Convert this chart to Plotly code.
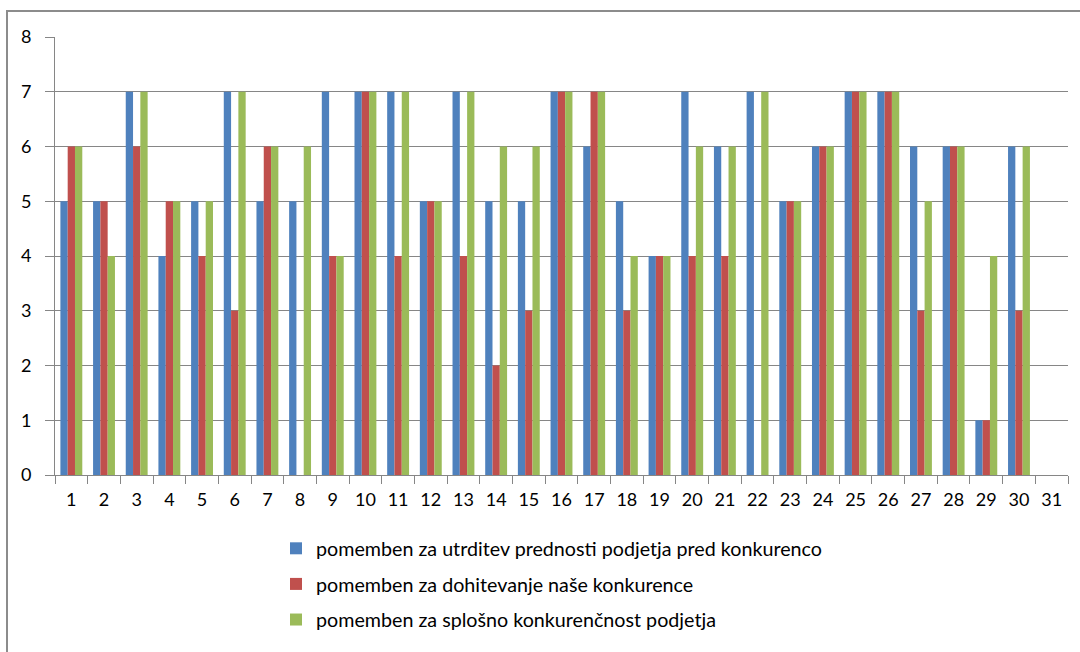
import plotly.graph_objects as go

# Categories 1..31 (31 has no responses)
categories = [str(i) for i in range(1, 32)]

utrditev = [5, 5, 7, 4, 5, 7, 5, 5, 7, 7, 7, 5, 7, 5, 5, 7, 6, 5, 4, 7, 6, 7, 5, 6, 7, 7, 6, 6, 1, 6, None]
dohitevanje = [6, 5, 6, 5, 4, 3, 6, 0, 4, 7, 4, 5, 4, 2, 3, 7, 7, 3, 4, 4, 4, 0, 5, 6, 7, 7, 3, 6, 1, 3, None]
splosno = [6, 4, 7, 5, 5, 7, 6, 6, 4, 7, 7, 5, 7, 6, 6, 7, 7, 4, 4, 6, 6, 7, 5, 6, 7, 7, 5, 6, 4, 6, None]

series_names = [
    "pomemben za utrditev prednosti podjetja pred konkurenco",
    "pomemben za dohitevanje naše konkurence",
    "pomemben za splošno konkurenčnost podjetja",
]
series_values = [utrditev, dohitevanje, splosno]
series_colors = ["#4F81BD", "#C0504D", "#9BBB59"]

FONT = "Lato, 'Open Sans', sans-serif"

fig = go.Figure()
for name, vals, col in zip(series_names, series_values, series_colors):
    fig.add_trace(go.Bar(
        x=categories, y=vals, name=name, legendgroup=name,
        marker=dict(color=col, line=dict(width=0)),
    ))

# plot area in pixels: x 55..1068, y 37..475
L, R, T, B = 55, 12, 37, 177
W, H = 1080, 652
pw, ph = W - L - R, H - T - B

def px_x(p):
    return (p - L) / pw

def px_y(p):
    return (H - B - p) / ph

fig.update_layout(
    width=W, height=H,
    margin=dict(l=L, r=R, t=T, b=B),
    paper_bgcolor="white", plot_bgcolor="white",
    barmode="group", bargap=0.33, bargroupgap=0,
    font=dict(family=FONT, size=18, color="#000000"),
    showlegend=True,
    legend=dict(
        x=px_x(276), y=px_y(529), xanchor="left", yanchor="top",
        orientation="v", tracegroupgap=7,
        font=dict(family=FONT, size=19.7, color="#000000"),
        bgcolor="rgba(0,0,0,0)",
        itemwidth=30,
    ),
    xaxis=dict(
        type="category", range=[-0.5, 30.5],
        tickson="boundaries", ticks="outside", ticklen=8, tickcolor="#868686",
        showline=True, linecolor="#868686", linewidth=1,
        showgrid=False, tickfont=dict(size=18), ticklabelstandoff=8,
    ),
    yaxis=dict(
        range=[0, 8], dtick=1, ticks="outside", ticklen=9, tickcolor="#868686",
        showline=True, linecolor="#868686", linewidth=1,
        showgrid=True, gridcolor="#868686", gridwidth=1,
        zeroline=False, tickfont=dict(size=18), ticklabelstandoff=10,
    ),
    shapes=[dict(
        type="rect", xref="paper", yref="paper",
        x0=px_x(7), x1=px_x(1100), y0=px_y(700), y1=px_y(11),
        line=dict(color="#8C8C8C", width=2), fillcolor="rgba(0,0,0,0)", layer="above",
    )],
)

fig.write_html("out.html")
